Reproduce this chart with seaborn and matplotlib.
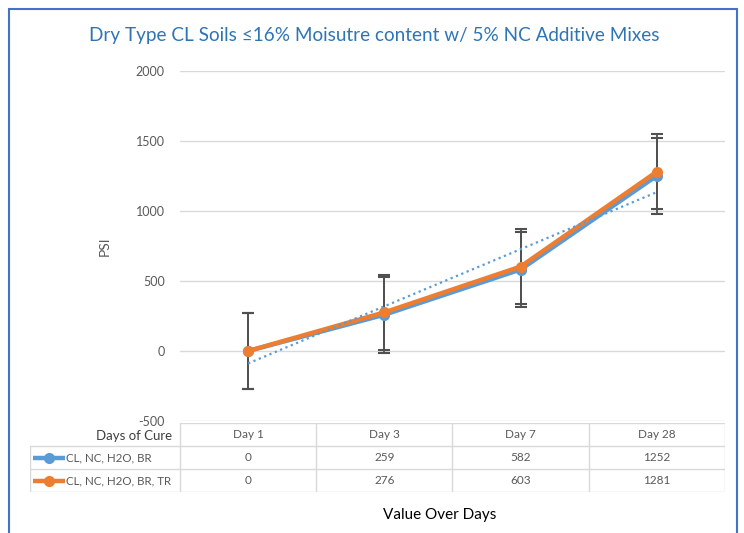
import matplotlib
matplotlib.use("Agg")
import matplotlib.pyplot as plt
import numpy as np
import pandas as pd
import seaborn as sns
from matplotlib.patches import Rectangle

# Data
days = ["Day 1", "Day 3", "Day 7", "Day 28"]
series_names = ["CL, NC, H2O, BR", "CL, NC, H2O, BR, TR"]
br_values = [0, 259, 582, 1252]
tr_values = [0, 276, 603, 1281]
error_value = 270
y_ticks = [-500, 0, 500, 1000, 1500, 2000]

BLUE = "#5B9BD5"
ORANGE = "#ED7D31"
GRID = "#D9D9D9"
TEXT = "#595959"
TITLE_COLOR = "#2E75B6"

sns.set_theme(style="white")
plt.rcParams["font.family"] = ["Lato", "DejaVu Sans"]

W, H = 744, 533
fig = plt.figure(figsize=(W / 100, H / 100), dpi=100)


def fx(px):
    return px / W


def fy(py):
    return 1 - py / H


# main plot area
ax = fig.add_axes([fx(180), fy(421), fx(725) - fx(180), fy(71) - fy(421)])
x = np.arange(len(days))
df = pd.DataFrame({
    "x": np.concatenate([x, x]),
    "PSI": br_values + tr_values,
    "series": [series_names[0]] * len(days) + [series_names[1]] * len(days),
})

for vals in [br_values, tr_values]:
    ax.errorbar(x, vals, yerr=error_value, fmt="none", ecolor="#505050",
                elinewidth=1.3, capsize=4, capthick=1.5, zorder=2)

sns.lineplot(data=df, x="x", y="PSI", hue="series", palette=[BLUE, ORANGE],
             marker="o", markersize=8, markeredgewidth=0, linewidth=3.2,
             legend=False, ax=ax, zorder=3)

# linear trendline for the first series
coef = np.polyfit(x + 1, br_values, 1)
ax.plot(x, np.polyval(coef, x + 1), linestyle=(0, (1, 1.6)), color=BLUE,
        linewidth=1.6, zorder=4)

ax.set_xlim(-0.5, len(days) - 0.5)
ax.set_ylim(-500, 2000)
ax.set_yticks(y_ticks)
ax.set_yticklabels([str(t) for t in y_ticks], fontsize=9, color=TEXT)
ax.set_xticks([])
ax.set_xlabel("")
ax.set_ylabel("PSI", fontsize=10, color=TEXT, labelpad=18)
ax.grid(axis="y", color=GRID, linewidth=1)
ax.tick_params(axis="y", length=0, pad=11)
for s in ax.spines.values():
    s.set_visible(False)

# data table below the plot
unit = (725 - 180) / len(days)
left_units = (180 - 30) / unit
tax = fig.add_axes([fx(30), fy(492), fx(725) - fx(30), fy(423) - fy(492)])
tax.set_xlim(-0.5 - left_units, len(days) - 0.5)
tax.set_ylim(3, 0)
tax.axis("off")

lw = 1
tax.plot([-0.5, len(days) - 0.5], [0, 0], color=GRID, lw=lw)
for r in [1, 2, 3]:
    tax.plot([-0.5 - left_units, len(days) - 0.5], [r, r], color=GRID, lw=lw)
for i in range(len(days) + 1):
    tax.plot([i - 0.5, i - 0.5], [0, 3], color=GRID, lw=lw)
tax.plot([-0.5 - left_units] * 2, [1, 3], color=GRID, lw=lw)

tax.text(-0.56, 0.55, "Days of Cure", ha="right", va="center", fontsize=9.5, color="#404040")
for i, d in enumerate(days):
    tax.text(i, 0.5, d, ha="center", va="center", fontsize=8.5, color=TEXT)
for r, (name, vals, col) in enumerate([(series_names[0], br_values, BLUE),
                                        (series_names[1], tr_values, ORANGE)], start=1):
    lx0 = -0.5 - left_units + 3 / unit
    lx1 = lx0 + 32 / unit
    tax.plot([lx0, lx1], [r + 0.5, r + 0.5], color=col, lw=3.2, solid_capstyle="butt")
    tax.plot([(lx0 + lx1) / 2], [r + 0.5], "o", color=col, markersize=7)
    tax.text(lx1 + 1 / unit, r + 0.5, name, ha="left", va="center", fontsize=8.3, color=TEXT)
    for i, v in enumerate(vals):
        tax.text(i, r + 0.5, str(v), ha="center", va="center", fontsize=8.5, color=TEXT)

fig.text(fx(440), fy(515), "Value Over Days", ha="center", va="center", fontsize=11, color="#000000")
fig.text(fx(374), fy(36), "Dry Type CL Soils \u226416% Moisutre content w/ 5% NC Additive Mixes",
         ha="center", va="center", fontsize=13.6, color=TITLE_COLOR,
         family=["Lato", "DejaVu Sans"])

# outer frame
fig.add_artist(Rectangle((fx(9), fy(560)), fx(737) - fx(9), fy(9) - fy(560),
                         transform=fig.transFigure, fill=False,
                         edgecolor="#4472C4", linewidth=1.5))

fig.savefig("out.png", dpi=100)
